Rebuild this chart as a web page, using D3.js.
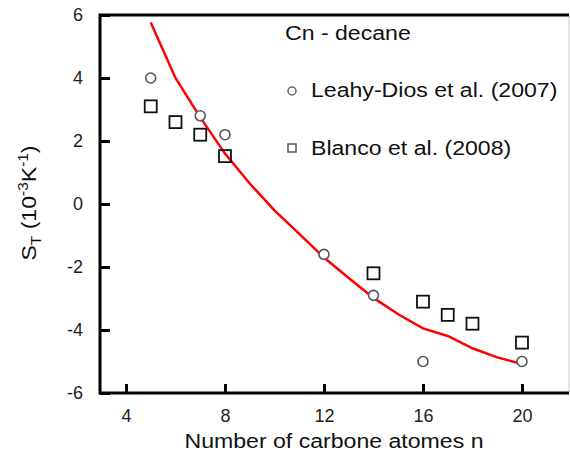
<!DOCTYPE html>
<html>
<head>
<meta charset="utf-8">
<script src="https://cdn.jsdelivr.net/npm/d3@7"></script>
<style>
  body { margin: 0; background: #fff; }
  svg { display: block; font-family: "Liberation Sans", Arial, sans-serif; }
</style>
</head>
<body>
<div id="chart"></div>
<script>
// Soret coefficient of n-alkanes in decane
const modelN = [5, 6, 7, 8, 9, 10, 11, 12, 13, 14, 15, 16, 17, 18, 19, 20];
const modelST = [5.76, 4.0, 2.75, 1.6, 0.65, -0.2, -0.95, -1.7, -2.35, -2.98, -3.5, -3.95, -4.19, -4.58, -4.87, -5.08];

const leahyN = [5, 7, 8, 12, 14, 16, 20];
const leahyST = [4.0, 2.8, 2.2, -1.6, -2.9, -5.0, -5.0];

const blancoN = [5, 6, 7, 8, 14, 16, 17, 18, 20];
const blancoST = [3.1, 2.6, 2.2, 1.52, -2.2, -3.1, -3.52, -3.8, -4.4];

const xTicks = [4, 8, 12, 16, 20];
const yTicks = [-6, -4, -2, 0, 2, 4, 6];
const legendLabels = ["Leahy-Dios et al. (2007)", "Blanco et al. (2008)"];

const width = 570, height = 453;
const mLeft = 100, mRight = 569, mTop = 15, mBottom = 393;

const svg = d3.select("#chart").append("svg")
  .attr("width", width)
  .attr("height", height);

const x = d3.scaleLinear().domain([2.95, 21.9]).range([mLeft, mRight]);
const y = d3.scaleLinear().domain([-6, 6]).range([mBottom, mTop]);

// axes with inward ticks, plain hyphen for negatives
const fmt = d => String(d);
const xAxis = svg.append("g")
  .attr("transform", `translate(0,${mBottom})`)
  .call(d3.axisBottom(x).tickValues(xTicks).tickFormat(fmt).tickSizeInner(-9).tickSizeOuter(0).tickPadding(16));
const yAxis = svg.append("g")
  .attr("transform", `translate(${mLeft},0)`)
  .call(d3.axisLeft(y).tickValues(yTicks).tickFormat(fmt).tickSizeInner(-10).tickSizeOuter(0).tickPadding(17));

[xAxis, yAxis].forEach(a => {
  a.select(".domain").remove();
  a.selectAll(".tick line").attr("stroke", "#000").attr("stroke-width", 3);
  a.selectAll(".tick text").attr("font-size", 18).attr("fill", "#222")
    .attr("font-family", "Liberation Sans, Arial, sans-serif");
});

// frame
svg.append("line").attr("x1", mRight).attr("x2", mRight).attr("y1", mTop).attr("y2", mBottom)
  .attr("stroke", "#ccc").attr("stroke-width", 1);
svg.append("path")
  .attr("d", `M${mRight},${mTop}H${mLeft}V${mBottom}H${mRight}`)
  .attr("fill", "none").attr("stroke", "#000").attr("stroke-width", 3);

// model curve
const line = d3.line().x((d, i) => x(modelN[i])).y(d => y(d));
svg.append("path")
  .datum(modelST)
  .attr("d", line)
  .attr("fill", "none")
  .attr("stroke", "#ff0000")
  .attr("stroke-width", 2.5);

// Leahy-Dios circles
svg.append("g").selectAll("circle")
  .data(leahyST)
  .join("circle")
  .attr("cx", (d, i) => x(leahyN[i]))
  .attr("cy", d => y(d))
  .attr("r", 5)
  .attr("fill", "#fff")
  .attr("stroke", "#555")
  .attr("stroke-width", 1.6);

// Blanco squares
const sq = 12;
svg.append("g").selectAll("rect")
  .data(blancoST)
  .join("rect")
  .attr("x", (d, i) => x(blancoN[i]) - sq / 2)
  .attr("y", d => y(d) - sq / 2)
  .attr("width", sq)
  .attr("height", sq)
  .attr("fill", "none")
  .attr("stroke", "#111")
  .attr("stroke-width", 1.8);

// text helper, slightly stretched horizontally like the original
function label(g, tx, ty, txt, size, anchor) {
  return g.append("text")
    .attr("transform", `translate(${tx},${ty}) scale(1.1,1)`)
    .attr("font-size", size)
    .attr("text-anchor", anchor || "start")
    .attr("fill", "#111")
    .text(txt);
}

// legend
label(svg, 285, 40, "Cn - decane", 21);
svg.append("circle").attr("cx", 292).attr("cy", 91).attr("r", 4)
  .attr("fill", "none").attr("stroke", "#666").attr("stroke-width", 1.5);
label(svg, 311, 97, legendLabels[0], 21);
svg.append("rect").attr("x", 288).attr("y", 144).attr("width", 8).attr("height", 8)
  .attr("fill", "none").attr("stroke", "#555").attr("stroke-width", 1.5);
label(svg, 311, 155, legendLabels[1], 21);

// axis titles
label(svg, 334, 448, "Number of carbone atomes n", 21, "middle");

const yt = svg.append("text")
  .attr("transform", "translate(36,203) rotate(-90) scale(1.1,1)")
  .attr("text-anchor", "middle")
  .attr("font-size", 21)
  .attr("fill", "#111");
yt.append("tspan").text("S");
yt.append("tspan").attr("font-size", 14).attr("dy", 5).text("T");
yt.append("tspan").attr("dy", -5).text(" (10");
yt.append("tspan").attr("font-size", 14).attr("dy", -8).text("-3");
yt.append("tspan").attr("dy", 8).text("K");
yt.append("tspan").attr("font-size", 14).attr("dy", -8).text("-1");
yt.append("tspan").attr("dy", 8).text(")");
</script>
</body>
</html>
